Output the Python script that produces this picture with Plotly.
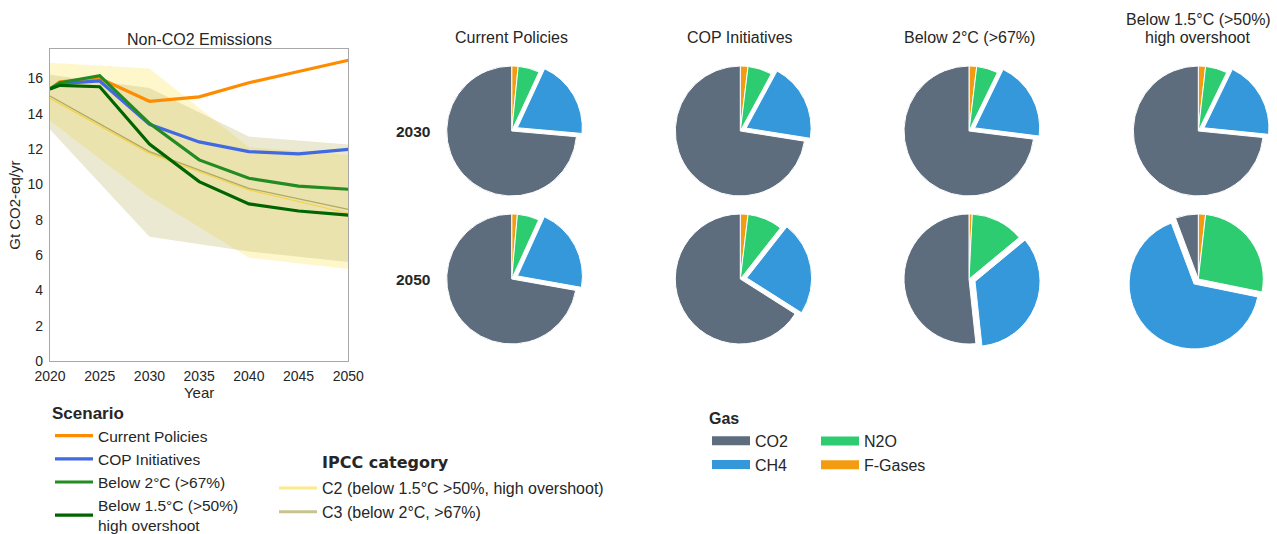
import plotly.graph_objects as go

# ---------------- data ----------------
years = [2020, 2021, 2025, 2030, 2035, 2040, 2045, 2050]
current_policies = [15.4, 15.8, 16.0, 14.7, 14.95, 15.75, 16.38, 17.02]
cop_initiatives = [15.4, 15.7, 15.85, 13.4, 12.4, 11.85, 11.72, 11.98]
below_2c = [15.4, 15.75, 16.15, 13.45, 11.38, 10.34, 9.9, 9.72]
below_15c = [15.4, 15.6, 15.52, 12.28, 10.15, 8.89, 8.49, 8.26]

ipcc_years = [2020, 2030, 2040, 2050]
c2_low = [13.6, 9.3, 5.85, 5.2]
c2_median = [14.87, 11.75, 9.68, 8.36]
c2_high = [16.88, 16.56, 12.1, 11.66]
c3_low = [13.1, 7.03, 6.2, 5.6]
c3_median = [15.0, 11.85, 9.77, 8.58]
c3_high = [16.2, 15.45, 12.7, 12.25]

y_ticks = [0, 2, 4, 6, 8, 10, 12, 14, 16]
x_ticks = [2020, 2025, 2030, 2035, 2040, 2045, 2050]

gases = ["CO2", "CH4", "N2O", "F-Gases"]
pie_years = ["2030", "2050"]
pie_scenarios = ["Current Policies", "COP Initiatives", "Below 2°C (>67%)",
                 "Below 1.5°C (>50%)<br>high overshoot"]
# share of each gas (%), order: CO2, CH4, N2O, F-Gases
share_cp_2030 = [73.6, 19.5, 5.3, 1.6]
share_cp_2050 = [72.2, 21.0, 5.4, 1.4]
share_cop_2030 = [72.5, 19.6, 6.0, 1.9]
share_cop_2050 = [66.0, 23.4, 8.7, 1.9]
share_b2_2030 = [73.0, 19.8, 5.3, 1.9]
share_b2_2050 = [51.7, 34.3, 13.2, 0.8]
share_b15_2030 = [73.4, 19.4, 5.4, 1.8]
share_b15_2050 = [5.7, 66.1, 26.4, 1.8]

# ---------------- styles ----------------
W, H = 1277, 534
FONT = "Liberation Sans, Arial, sans-serif"
TXT = "#262626"
scenario_colors = ["#ff8c00", "#4169e1", "#228b22", "#006400"]
gas_colors = ["#5d6d7e", "#3498db", "#2ecc71", "#f39c12"]


def px_x(v):
    return v / W


def px_y(v):
    return 1 - v / H


fig = go.Figure()

# IPCC ranges
fig.add_trace(go.Scatter(x=ipcc_years + ipcc_years[::-1], y=c2_high + c2_low[::-1],
                         fill="toself", fillcolor="rgba(255,215,0,0.2)",
                         line=dict(width=0), mode="lines", showlegend=False, hoverinfo="skip"))
fig.add_trace(go.Scatter(x=ipcc_years + ipcc_years[::-1], y=c3_high + c3_low[::-1],
                         fill="toself", fillcolor="rgba(189,183,107,0.3)",
                         line=dict(width=0), mode="lines", showlegend=False, hoverinfo="skip"))
fig.add_trace(go.Scatter(x=ipcc_years, y=c2_median, mode="lines",
                         line=dict(color="rgba(245,205,40,0.75)", width=1.2), showlegend=False))
fig.add_trace(go.Scatter(x=ipcc_years, y=c3_median, mode="lines",
                         line=dict(color="rgba(160,155,80,0.8)", width=1.2), showlegend=False))

# scenario pathways
scenario_series = [current_policies, cop_initiatives, below_2c, below_15c]
for name, vals, col in zip(pie_scenarios, scenario_series, scenario_colors):
    fig.add_trace(go.Scatter(x=years, y=vals, mode="lines", name=name,
                             line=dict(color=col, width=3.2), legend="legend",
                             legendgroup=name))

# IPCC legend keys
fig.add_trace(go.Scatter(x=[None], y=[None], mode="lines",
                         name="C2 (below 1.5°C >50%, high overshoot)",
                         line=dict(color="#fde98a", width=3), legend="legend2", legendgroup="c2"))
fig.add_trace(go.Scatter(x=[None], y=[None], mode="lines", name="C3 (below 2°C, >67%)",
                         line=dict(color="#c9c48f", width=3), legend="legend2", legendgroup="c3"))

# gas legend keys (two columns)
for i, (g, col) in enumerate(zip(gases, gas_colors)):
    fig.add_trace(go.Scatter(x=[None], y=[None], mode="lines", name=g,
                             line=dict(color=col, width=9),
                             legend="legend3" if i < 2 else "legend4", legendgroup=g))

# pies: slices run clockwise from 12 o'clock as F-Gases, N2O, CH4, CO2
col_cx = [511.7, 740.3, 969.0, 1198.3]
row_cy = [131.0, 279.0]
pull = 0.1
radius = 65
half = radius * (1 + pull)
pie_data = [[share_cp_2030, share_cp_2050], [share_cop_2030, share_cop_2050],
            [share_b2_2030, share_b2_2050], [share_b15_2030, share_b15_2050]]
pie_order = [3, 2, 1, 0]
for ci, cx in enumerate(col_cx):
    for ri, cy in enumerate(row_cy):
        vals = pie_data[ci][ri]
        fig.add_trace(go.Pie(
            labels=[gases[k] for k in pie_order], values=[vals[k] for k in pie_order],
            sort=False, direction="clockwise", rotation=0,
            pull=[pull if gases[k] == "CH4" else 0 for k in pie_order],
            textinfo="none", hoverinfo="label+percent",
            marker=dict(colors=[gas_colors[k] for k in pie_order],
                        line=dict(color="white", width=1)),
            showlegend=False,
            domain=dict(x=[px_x(cx - half), px_x(cx + half)],
                        y=[px_y(cy + half), px_y(cy - half)])))

annotations = [
    dict(text="Non-CO2 Emissions", x=px_x(199), y=px_y(40), xref="paper", yref="paper",
         xanchor="center", yanchor="middle", showarrow=False,
         font=dict(size=16, color=TXT, family=FONT)),
    dict(text="<b>IPCC category</b>", x=px_x(320), y=px_y(462), xref="paper", yref="paper",
         xanchor="left", yanchor="middle", showarrow=False,
         font=dict(size=16, color=TXT, family="DejaVu Sans")),
]
# column titles, one annotation per text line
for name, cx in zip(pie_scenarios, col_cx):
    lines = name.split("<br>")
    for li, line in enumerate(lines):
        y_line = 37 - 17 * (len(lines) - 1 - li)
        annotations.append(dict(text=line, x=px_x(cx), y=px_y(y_line), xref="paper",
                                yref="paper", xanchor="center", yanchor="middle",
                                showarrow=False, font=dict(size=16, color=TXT, family=FONT)))
for yr, cy in zip(pie_years, row_cy):
    annotations.append(dict(text=f"<b>{yr}</b>", x=px_x(432), y=px_y(cy), xref="paper",
                            yref="paper", xanchor="right", yanchor="middle", showarrow=False,
                            font=dict(size=15.5, color=TXT, family=FONT)))

legend_font = dict(size=16, color=TXT, family=FONT)
fig.update_layout(
    width=W, height=H, margin=dict(l=0, r=0, t=0, b=0, autoexpand=False),
    paper_bgcolor="white", plot_bgcolor="white",
    font=dict(family=FONT, color=TXT),
    annotations=annotations,
    xaxis=dict(domain=[px_x(50), px_x(348.3)], range=[2020, 2050], tickvals=x_ticks,
               showgrid=False, zeroline=False, showline=True, mirror=True, automargin=False,
               linecolor="#a8a8a8", linewidth=1.2, ticks="", ticklabelstandoff=2,
               tickfont=dict(size=14, color=TXT),
               title=dict(text="Year", font=dict(size=15, color=TXT), standoff=0)),
    yaxis=dict(domain=[px_y(361), px_y(49.3)], range=[0, 17.64], tickvals=y_ticks,
               showgrid=False, zeroline=False, showline=True, mirror=True, automargin=False,
               linecolor="#a8a8a8", linewidth=1.2, ticks="", ticklabelstandoff=3,
               tickfont=dict(size=14, color=TXT),
               title=dict(text="Gt CO2-eq/yr", font=dict(size=15, color=TXT), standoff=3)),
    legend=dict(x=px_x(50), y=px_y(397), xanchor="left", yanchor="top",
                title=dict(text="<b>Scenario</b>", font=dict(size=17, color=TXT, family=FONT)),
                font=dict(size=15.5, color=TXT, family=FONT), bgcolor="rgba(0,0,0,0)",
                tracegroupgap=0, itemwidth=38),
    legend2=dict(x=px_x(274), y=px_y(471), xanchor="left", yanchor="top",
                 font=legend_font, bgcolor="rgba(0,0,0,0)", tracegroupgap=0, itemwidth=38),
    legend3=dict(x=px_x(707), y=px_y(403), xanchor="left", yanchor="top",
                 title=dict(text="<b>Gas</b>", font=dict(size=16, color=TXT, family=FONT)),
                 font=legend_font, bgcolor="rgba(0,0,0,0)", tracegroupgap=0, itemwidth=38),
    legend4=dict(x=px_x(816), y=px_y(424), xanchor="left", yanchor="top",
                 font=legend_font, bgcolor="rgba(0,0,0,0)", tracegroupgap=0, itemwidth=38),
)

fig.write_html("out.html")
